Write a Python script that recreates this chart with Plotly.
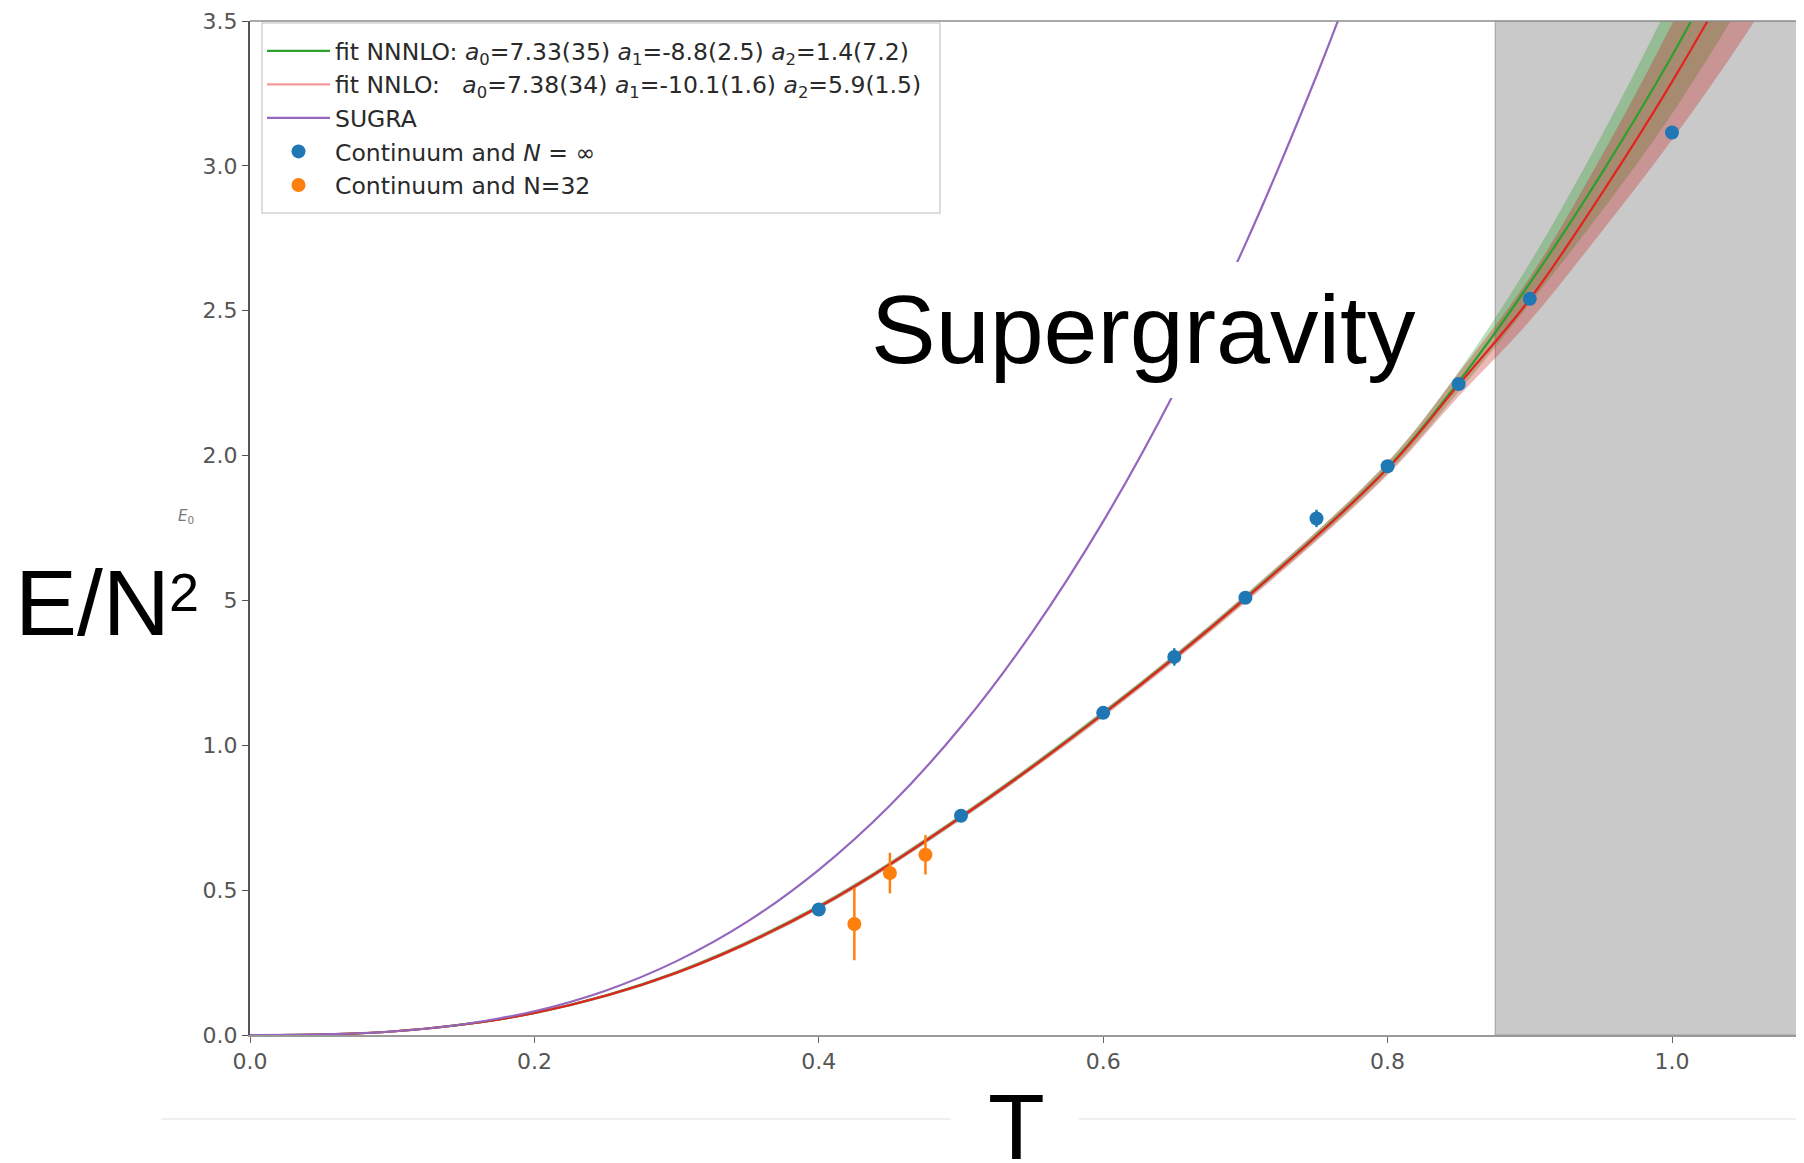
import plotly.graph_objects as go

# ---------------- data ----------------
T_fit = [0.0, 0.1, 0.2, 0.3, 0.4, 0.5, 0.6, 0.7, 0.8, 0.85, 0.9, 0.95, 1.0, 1.05, 1.1]
E_nnlo = [0.0, 0.012, 0.076, 0.215, 0.442, 0.752, 1.108, 1.506, 1.955, 2.245, 2.54, 2.90, 3.29, 3.72, 4.19]
E_nnlo_err = [0.0, 0.002, 0.004, 0.006, 0.008, 0.009, 0.011, 0.014, 0.022, 0.04, 0.075, 0.13, 0.20, 0.28, 0.36]
E_nnnlo = [0.0, 0.012, 0.076, 0.216, 0.443, 0.753, 1.110, 1.508, 1.958, 2.255, 2.595, 2.97, 3.38, 3.84, 4.33]
E_nnnlo_err = [0.0, 0.002, 0.004, 0.006, 0.008, 0.009, 0.010, 0.012, 0.020, 0.035, 0.07, 0.13, 0.20, 0.27, 0.35]

T_sugra = [0.0, 0.05, 0.1, 0.15, 0.2, 0.25, 0.3, 0.35, 0.4, 0.45, 0.5, 0.55, 0.6, 0.65, 0.7, 0.75, 0.78]
E_sugra = [0.0, 0.002, 0.012, 0.037, 0.082, 0.153, 0.255, 0.392, 0.570, 0.792, 1.064, 1.390, 1.773, 2.218, 2.730, 3.311, 3.696]

T_inf = [0.4, 0.5, 0.6, 0.65, 0.7, 0.75, 0.8, 0.85, 0.9, 1.0]
E_inf = [0.433, 0.757, 1.112, 1.305, 1.509, 1.783, 1.963, 2.247, 2.541, 3.115]
E_inf_err = [0.015, 0.012, 0.012, 0.03, 0.015, 0.03, 0.015, 0.02, 0.02, 0.02]

T_32 = [0.425, 0.45, 0.475]
E_32 = [0.383, 0.559, 0.622]
E_32_err = [0.125, 0.07, 0.068]

T_excluded = 0.8757
x_ticks = [0.0, 0.2, 0.4, 0.6, 0.8, 1.0]
y_ticks = [0.0, 0.5, 1.0, 1.5, 2.0, 2.5, 3.0, 3.5]

legend_names = [
    "fit NNNLO: <i>a</i><sub>0</sub>=7.33(35) <i>a</i><sub>1</sub>=-8.8(2.5) <i>a</i><sub>2</sub>=1.4(7.2)",
    "fit NNLO: &nbsp;&nbsp;<i>a</i><sub>0</sub>=7.38(34) <i>a</i><sub>1</sub>=-10.1(1.6) <i>a</i><sub>2</sub>=5.9(1.5)",
    "SUGRA",
    "Continuum and <i>N</i> = ∞",
    "Continuum and N=32",
]

# ---------------- figure geometry ----------------
# the page body has an 8 px margin, so the figure is shifted by it
OFF = 8
W, H = 1804 - OFF, 1163 - OFF
PX0, PX1, PY0, PY1 = 250, 1804, 21, 1035          # plot area in page pixels
L, R, TOP, B = PX0 - OFF, 0, PY0 - OFF, H - (PY1 - OFF)
PW, PH = PX1 - PX0, PY1 - PY0
x_max = PW / 1422.0


def px(xpage):
    return (xpage - PX0) / PW


def py(ypage):
    return (PY1 - ypage) / PH


fig = go.Figure()

C_GREEN = "#2ca02c"
C_RED = "#e3231f"
C_PURPLE = "#9467bd"
C_BLUE = "#1f77b4"
C_ORANGE = "#ff7f0e"

# uncertainty bands
lo = [v - e for v, e in zip(E_nnnlo, E_nnnlo_err)]
hi = [v + e for v, e in zip(E_nnnlo, E_nnnlo_err)]
fig.add_trace(go.Scatter(x=T_fit, y=lo, mode="lines", line=dict(width=0, shape="spline"),
                         showlegend=False, hoverinfo="skip"))
fig.add_trace(go.Scatter(x=T_fit, y=hi, mode="lines", line=dict(width=0, shape="spline"),
                         fill="tonexty", fillcolor="rgba(44,160,44,0.33)",
                         showlegend=False, hoverinfo="skip"))
lo = [v - e for v, e in zip(E_nnlo, E_nnlo_err)]
hi = [v + e for v, e in zip(E_nnlo, E_nnlo_err)]
fig.add_trace(go.Scatter(x=T_fit, y=lo, mode="lines", line=dict(width=0, shape="spline"),
                         showlegend=False, hoverinfo="skip"))
fig.add_trace(go.Scatter(x=T_fit, y=hi, mode="lines", line=dict(width=0, shape="spline"),
                         fill="tonexty", fillcolor="rgba(200,40,40,0.33)",
                         showlegend=False, hoverinfo="skip"))

# central lines
fig.add_trace(go.Scatter(x=T_fit, y=E_nnnlo, mode="lines", name=legend_names[0],
                         legendgroup="g1", line=dict(color=C_GREEN, width=2.2, shape="spline")))
fig.add_trace(go.Scatter(x=T_fit, y=E_nnlo, mode="lines", showlegend=False,
                         line=dict(color=C_RED, width=2.2, shape="spline")))
fig.add_trace(go.Scatter(x=[None], y=[None], mode="lines", name=legend_names[1],
                         legendgroup="g2", line=dict(color="#f29a9a", width=2.2)))
fig.add_trace(go.Scatter(x=T_sugra, y=E_sugra, mode="lines", name=legend_names[2],
                         legendgroup="g3", line=dict(color=C_PURPLE, width=2.2, shape="spline")))

# data points
fig.add_trace(go.Scatter(x=T_inf, y=E_inf, mode="markers", name=legend_names[3], legendgroup="g4",
                         marker=dict(color=C_BLUE, size=14),
                         error_y=dict(type="data", array=E_inf_err, color=C_BLUE, thickness=2.5, width=0)))
fig.add_trace(go.Scatter(x=T_32, y=E_32, mode="markers", name=legend_names[4], legendgroup="g5",
                         marker=dict(color=C_ORANGE, size=14),
                         error_y=dict(type="data", array=E_32_err, color=C_ORANGE, thickness=2.5, width=0)))

shapes = [
    # excluded (shaded) region
    dict(type="rect", xref="x", yref="y", x0=T_excluded, x1=x_max, y0=0, y1=3.5,
         fillcolor="#c9c9c9", line=dict(color="#9c9c9c", width=1), layer="below"),
    # top frame line
    dict(type="line", xref="paper", yref="paper", x0=0, x1=1, y0=1, y1=1,
         line=dict(color="#8c8c8c", width=1.5), layer="above"),
    # legend frame
    dict(type="rect", xref="paper", yref="paper", x0=px(262), x1=px(940), y0=py(213), y1=py(23),
         fillcolor="white", line=dict(color="#d2d2d2", width=1.5), layer="above"),
    # faint line below axis
    dict(type="line", xref="paper", yref="paper", x0=px(161), x1=1.0, y0=py(1119), y1=py(1119),
         line=dict(color="#efefef", width=2), layer="above"),
    # white boxes behind the overlaid labels
    dict(type="rect", xref="paper", yref="paper", x0=px(862), x1=px(1422), y0=py(398), y1=py(262),
         fillcolor="white", line=dict(width=0), layer="above"),
    dict(type="rect", xref="paper", yref="paper", x0=px(6), x1=px(223), y0=py(650), y1=py(552),
         fillcolor="white", line=dict(width=0), layer="above"),
    dict(type="rect", xref="paper", yref="paper", x0=px(951), x1=px(1079), y0=py(1170), y1=py(1078),
         fillcolor="white", line=dict(width=0), layer="above"),
]

BIG = "Liberation Sans, Arial, sans-serif"
annotations = [
    dict(text="Supergravity", xref="paper", yref="paper", x=px(1143), y=py(329),
         xanchor="center", yanchor="middle", showarrow=False,
         font=dict(family=BIG, size=97, color="black")),
    dict(text="E/N", xref="paper", yref="paper", x=px(14), y=py(603),
         xanchor="left", yanchor="middle", showarrow=False, borderpad=0,
         font=dict(family=BIG, size=93, color="black")),
    dict(text="2", xref="paper", yref="paper", x=px(168), y=py(592),
         xanchor="left", yanchor="middle", showarrow=False, borderpad=0,
         font=dict(family=BIG, size=54, color="black")),
    dict(text="T", xref="paper", yref="paper", x=px(1016), y=py(1127),
         xanchor="center", yanchor="middle", showarrow=False, borderpad=0,
         font=dict(family=BIG, size=93, color="black")),
    dict(text="<i>E</i><sub>0</sub>", xref="paper", yref="paper", x=px(186), y=py(516),
         xanchor="center", yanchor="middle", showarrow=False,
         font=dict(family="DejaVu Sans", size=15, color="#777")),
]

fig.update_layout(
    width=W, height=H,
    margin=dict(l=L, r=R, t=TOP, b=B, pad=0),
    paper_bgcolor="white", plot_bgcolor="white",
    shapes=shapes, annotations=annotations,
    showlegend=True,
    legend=dict(x=px(262), y=py(29), xanchor="left", yanchor="top",
                bgcolor="rgba(0,0,0,0)", borderwidth=0,
                font=dict(family="DejaVu Sans", size=23.5, color="#2a2a2a"),
                tracegroupgap=7, traceorder="normal", itemwidth=63),
    xaxis=dict(range=[0, x_max], tickvals=x_ticks, ticktext=[f"{v:.1f}" for v in x_ticks],
               showgrid=False, zeroline=False, showline=True, linecolor="#9a9a9a", linewidth=2,
               ticks="outside", ticklen=6, tickcolor="#666",
               tickfont=dict(family="DejaVu Sans", size=22, color="#555")),
    yaxis=dict(range=[0, 3.5], tickvals=y_ticks, ticktext=[f"{v:.1f}" for v in y_ticks],
               showgrid=False, zeroline=False, showline=True, linecolor="#555", linewidth=2,
               ticks="outside", ticklen=6, tickcolor="#555",
               tickfont=dict(family="DejaVu Sans", size=22, color="#555")),
)

fig.write_html("out.html")
